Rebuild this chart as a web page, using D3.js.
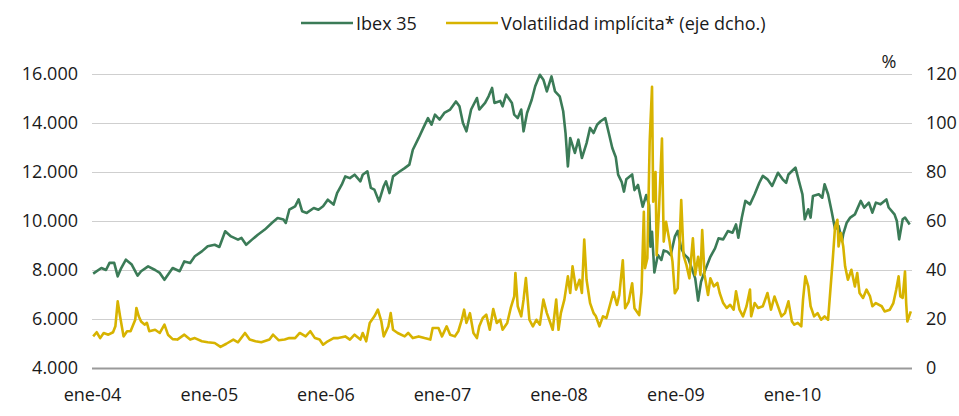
<!DOCTYPE html>
<html>
<head>
<meta charset="utf-8">
<script src="https://cdn.jsdelivr.net/npm/d3@7"></script>
<style>
  body { margin: 0; background: #fff; }
  text { font-family: "Open Sans", sans-serif; fill: #1a1a1a; }
</style>
</head>
<body>
<div id="chart"></div>
<script>
// time is kept as decimal years
var ibexT = [2004.01, 2004.08, 2004.12, 2004.15, 2004.19, 2004.22, 2004.25, 2004.29, 2004.34, 2004.39,
  2004.42, 2004.48, 2004.54, 2004.58, 2004.62, 2004.69, 2004.75, 2004.79, 2004.84, 2004.88,
  2004.94, 2004.99, 2005.05, 2005.09, 2005.14, 2005.19, 2005.25, 2005.28, 2005.32, 2005.37,
  2005.42, 2005.48, 2005.54, 2005.59, 2005.64, 2005.66, 2005.69, 2005.74, 2005.77, 2005.80,
  2005.84, 2005.90, 2005.94, 2005.98, 2006.02, 2006.07, 2006.10, 2006.14, 2006.17, 2006.21,
  2006.25, 2006.30, 2006.32, 2006.36, 2006.39, 2006.42, 2006.46, 2006.50, 2006.52, 2006.55,
  2006.58, 2006.64, 2006.68, 2006.72, 2006.75, 2006.80, 2006.84, 2006.88, 2006.91, 2006.94,
  2006.98, 2007.02, 2007.07, 2007.12, 2007.15, 2007.18, 2007.21, 2007.25, 2007.30, 2007.32,
  2007.37, 2007.40, 2007.43, 2007.45, 2007.50, 2007.52, 2007.55, 2007.60, 2007.62, 2007.65,
  2007.68, 2007.70, 2007.73, 2007.77, 2007.80, 2007.84, 2007.87, 2007.90, 2007.94, 2007.97,
  2008.01, 2008.04, 2008.06, 2008.08, 2008.10, 2008.14, 2008.17, 2008.20, 2008.24, 2008.27,
  2008.30, 2008.33, 2008.36, 2008.40, 2008.43, 2008.46, 2008.49, 2008.51, 2008.54, 2008.56,
  2008.58, 2008.63, 2008.65, 2008.68, 2008.72, 2008.75, 2008.775, 2008.787, 2008.80, 2008.82,
  2008.85, 2008.88, 2008.90, 2008.93, 2008.96, 2008.995, 2009.02, 2009.05, 2009.08, 2009.11,
  2009.14, 2009.17, 2009.195, 2009.22, 2009.25, 2009.30, 2009.34, 2009.37, 2009.41, 2009.45,
  2009.49, 2009.52, 2009.54, 2009.57, 2009.60, 2009.64, 2009.68, 2009.72, 2009.75, 2009.79,
  2009.83, 2009.88, 2009.92, 2009.95, 2009.97, 2010.00, 2010.03, 2010.06, 2010.09, 2010.11,
  2010.14, 2010.16, 2010.18, 2010.23, 2010.26, 2010.28, 2010.31, 2010.34, 2010.37, 2010.40,
  2010.43, 2010.44, 2010.47, 2010.50, 2010.54, 2010.59, 2010.62, 2010.66, 2010.69, 2010.72,
  2010.76, 2010.81, 2010.83, 2010.88, 2010.90, 2010.92, 2010.95, 2010.97, 2011.01];

var ibexValues = [7850, 8080, 8000, 8290, 8290, 7740, 8080, 8420, 8220, 7770,
  7950, 8150, 8000, 7880, 7600, 8080, 7950, 8350, 8290, 8560,
  8760, 8970, 9030, 8940, 9580, 9370, 9240, 9310, 9030, 9240,
  9440, 9650, 9920, 10120, 10060, 9920, 10460, 10600, 10880, 10400,
  10330, 10530, 10460, 10600, 10870, 10670, 11140, 11480, 11820, 11750,
  11890, 11620, 11890, 12030, 11350, 11280, 10800, 11420, 11620, 11140,
  11820, 12030, 12160, 12300, 12910, 13390, 13800, 14200, 13930, 14340,
  14140, 14410, 14550, 14880, 14680, 14000, 13660, 14550, 15020, 14550,
  14820, 15090, 15430, 14820, 14900, 14680, 15160, 14820, 14340, 14200,
  14550, 13660, 14410, 14950, 15500, 15970, 15770, 15290, 15900, 15290,
  15090, 14480, 13590, 12230, 13390, 12780, 13320, 12570, 13180, 13800,
  13590, 13930, 14070, 14200, 13590, 12980, 12600, 11890, 11600, 11200,
  11700, 11900, 11260, 11470, 10580, 11060, 10650, 8950, 9560, 7900,
  8610, 8410, 8800, 8750, 8610, 9360, 9600, 8880, 8610, 8480,
  8070, 7660, 6750, 7520, 7930, 8540, 8880, 9290, 9250, 9590,
  9520, 9860, 9320, 10140, 10820, 10680, 11090, 11560, 11840, 11700,
  11430, 11970, 11700, 11560, 11900, 12040, 12180, 11630, 11090, 10070,
  10480, 10140, 11020, 11090, 10950, 11500, 11090, 10410, 9660, 9800,
  9180, 9460, 9930, 10140, 10270, 10820, 10550, 10750, 10340, 10750,
  10680, 10880, 10550, 10270, 10000, 9250, 10070, 10140, 9860];

var volT = [2004.01, 2004.04, 2004.07, 2004.10, 2004.14, 2004.18, 2004.20, 2004.22, 2004.24, 2004.27,
  2004.30, 2004.33, 2004.37, 2004.38, 2004.40, 2004.42, 2004.45, 2004.47, 2004.49, 2004.54,
  2004.58, 2004.62, 2004.65, 2004.69, 2004.73, 2004.79, 2004.84, 2004.88, 2004.94, 2004.99,
  2005.05, 2005.10, 2005.15, 2005.21, 2005.25, 2005.31, 2005.35, 2005.40, 2005.45, 2005.52,
  2005.55, 2005.60, 2005.65, 2005.69, 2005.74, 2005.78, 2005.83, 2005.87, 2005.91, 2005.95,
  2005.98, 2006.02, 2006.07, 2006.11, 2006.17, 2006.21, 2006.25, 2006.30, 2006.32, 2006.35,
  2006.38, 2006.42, 2006.45, 2006.48, 2006.50, 2006.54, 2006.56, 2006.58, 2006.62, 2006.68,
  2006.71, 2006.75, 2006.80, 2006.85, 2006.90, 2006.92, 2006.97, 2007.00, 2007.04, 2007.07,
  2007.11, 2007.14, 2007.17, 2007.19, 2007.21, 2007.24, 2007.27, 2007.30, 2007.32, 2007.35,
  2007.38, 2007.41, 2007.44, 2007.47, 2007.50, 2007.52, 2007.56, 2007.59, 2007.62, 2007.63,
  2007.65, 2007.68, 2007.70, 2007.72, 2007.75, 2007.78, 2007.81, 2007.84, 2007.87, 2007.90,
  2007.92, 2007.95, 2007.98, 2008.00, 2008.02, 2008.05, 2008.08, 2008.10, 2008.12, 2008.15,
  2008.18, 2008.20, 2008.22, 2008.24, 2008.27, 2008.30, 2008.32, 2008.35, 2008.38, 2008.41,
  2008.44, 2008.47, 2008.50, 2008.52, 2008.55, 2008.57, 2008.60, 2008.63, 2008.65, 2008.69,
  2008.71, 2008.73, 2008.74, 2008.76, 2008.78, 2008.80, 2008.81, 2008.83, 2008.84, 2008.86,
  2008.885, 2008.90, 2008.92, 2008.95, 2008.975, 2008.995, 2009.02, 2009.05, 2009.07, 2009.095,
  2009.12, 2009.15, 2009.17, 2009.195, 2009.215, 2009.23, 2009.25, 2009.28, 2009.30,
  2009.33, 2009.36, 2009.38, 2009.41, 2009.44, 2009.47, 2009.50, 2009.52, 2009.55, 2009.58,
  2009.61, 2009.64, 2009.65, 2009.68, 2009.71, 2009.75, 2009.79, 2009.82, 2009.85, 2009.88,
  2009.91, 2009.94, 2009.97, 2010.00, 2010.02, 2010.05, 2010.08, 2010.095, 2010.115, 2010.14,
  2010.16, 2010.19, 2010.22, 2010.25, 2010.28, 2010.31, 2010.33, 2010.35, 2010.37, 2010.39,
  2010.40, 2010.42, 2010.44, 2010.456, 2010.48, 2010.51, 2010.54, 2010.56, 2010.58, 2010.61,
  2010.64, 2010.67, 2010.69, 2010.72, 2010.77, 2010.795, 2010.84, 2010.87, 2010.895, 2010.915,
  2010.93, 2010.95, 2010.97, 2010.98, 2010.99, 2011.02];

var volValues = [12.9, 14.6, 12.2, 14.3, 13.6, 14.6, 17.0, 27.2, 21.1, 12.9,
  15.0, 15.0, 19.7, 24.5, 21.1, 19.0, 17.7, 18.4, 15.0, 15.6,
  14.3, 17.7, 13.6, 11.8, 11.6, 13.6, 11.6, 12.2, 10.9, 10.5,
  10.2, 8.6, 9.9, 11.6, 10.5, 14.3, 11.6, 10.9, 10.5, 11.6,
  13.6, 11.3, 11.6, 12.2, 12.2, 14.3, 12.9, 15.0, 12.2, 11.6,
  9.5, 10.9, 12.2, 12.2, 12.9, 11.6, 13.6, 11.6, 14.3, 10.9,
  18.4, 21.1, 23.8, 19.0, 12.9, 17.0, 22.4, 15.6, 14.3, 12.9,
  14.3, 12.2, 12.9, 12.2, 11.6, 16.3, 16.3, 12.9, 17.0, 13.6,
  12.9, 15.0, 19.7, 23.8, 18.4, 22.4, 14.3, 12.2, 17.0, 20.4,
  21.8, 15.6, 24.1, 18.4, 19.7, 15.6, 18.4, 24.5, 29.2, 38.8,
  25.2, 21.1, 27.9, 36.7, 19.7, 17.0, 19.7, 17.7, 27.9, 22.4,
  19.7, 15.6, 27.9, 15.6, 22.4, 27.9, 37.4, 30.6, 41.5, 32.0,
  36.0, 30.6, 52.4, 36.0, 26.5, 22.4, 21.1, 17.0, 21.1, 20.4,
  25.7, 31.0, 25.7, 29.8, 44.0, 24.4, 27.0, 34.6, 24.4, 21.6,
  31.0, 63.8, 40.7, 44.8, 92.4, 114.8, 67.9, 80.0, 46.0, 65.0,
  93.7, 51.6, 59.7, 51.6, 43.4, 30.5, 32.5, 68.6, 46.0, 42.0,
  36.6, 52.9, 38.0, 45.4, 38.0, 56.3, 38.0, 29.8, 36.6,
  33.3, 34.7, 30.6, 26.5, 24.5, 25.8, 23.8, 31.3, 23.8, 21.1,
  25.2, 32.0, 21.1, 26.5, 24.5, 25.2, 30.6, 23.8, 29.2, 25.2,
  21.1, 22.4, 27.2, 19.0, 17.7, 18.4, 17.0, 27.9, 37.4, 33.3,
  25.2, 21.1, 22.4, 19.7, 21.1, 19.7, 32.0, 44.2, 57.8, 60.5,
  49.6, 55.1, 49.6, 41.5, 36.0, 40.1, 33.3, 38.8, 30.6, 28.6,
  32.0, 29.2, 25.2, 26.5, 25.2, 23.1, 23.8, 26.5, 32.0, 37.4,
  29.2, 28.6, 39.4, 26.5, 19.0, 23.1];

var leftTicks = [4000, 6000, 8000, 10000, 12000, 14000, 16000];
var rightTicks = [0, 20, 40, 60, 80, 100, 120];
var tickYears = [2004, 2005, 2006, 2007, 2008, 2009, 2010];
var seriesNames = ["Ibex 35", "Volatilidad implícita* (eje dcho.)"];
var seriesColors = ["#3b7b57", "#d7b300"];

var svgWidth = 959;
var svgHeight = 416;
var margin = { top: 74, right: 47, bottom: 48, left: 92 };
var width = svgWidth - margin.left - margin.right;
var height = svgHeight - margin.top - margin.bottom;

function toDate(t) {
  var y = Math.floor(t);
  var start = Date.UTC(y, 0, 1), end = Date.UTC(y + 1, 0, 1);
  return new Date(start + (t - y) * (end - start));
}

var esFormat = d3.formatLocale({ decimal: ",", thousands: ".", grouping: [3], currency: ["", " €"] }).format(",d");

var svg = d3.select("#chart").append("svg")
  .attr("width", svgWidth)
  .attr("height", svgHeight);

var chartGroup = svg.append("g")
  .attr("transform", `translate(${margin.left}, ${margin.top})`);

var xScale = d3.scaleUtc()
  .domain([toDate(2004.0), toDate(2011.03)])
  .range([0, width]);

var yLeft = d3.scaleLinear().domain([4000, 16000]).range([height, 0]);
var yRight = d3.scaleLinear().domain([0, 120]).range([height, 0]);

// gridlines + left labels
var leftAxis = chartGroup.append("g")
  .call(d3.axisLeft(yLeft).tickValues(leftTicks).tickFormat(esFormat).tickSize(-width).tickPadding(14));
leftAxis.select(".domain").remove();
leftAxis.selectAll("line")
  .attr("stroke", d => d === 4000 ? "#9a9a9a" : "#cfcfcf")
  .attr("stroke-width", d => d === 4000 ? 2 : 1.2);
leftAxis.selectAll("text").style("font-size", "18px").attr("fill", "#1a1a1a");

var rightAxis = chartGroup.append("g")
  .attr("transform", `translate(${width}, 0)`)
  .call(d3.axisRight(yRight).tickValues(rightTicks).tickSize(0).tickPadding(14));
rightAxis.select(".domain").remove();
rightAxis.selectAll("text").style("font-size", "18px").attr("fill", "#1a1a1a");

chartGroup.append("text")
  .attr("x", width - 23)
  .attr("y", -6)
  .attr("text-anchor", "middle")
  .style("font-size", "18px")
  .text("%");

// x labels
var xAxis = chartGroup.append("g")
  .attr("transform", `translate(0, ${height})`)
  .call(d3.axisBottom(xScale)
    .tickValues(tickYears.map(y => toDate(y)))
    .tickFormat(d => "ene-" + d3.utcFormat("%y")(d))
    .tickSize(0).tickPadding(20));
xAxis.select(".domain").remove();
xAxis.selectAll("text").style("font-size", "18px").attr("fill", "#1a1a1a");

var ibexData = ibexT.map((t, i) => ({ date: toDate(t), value: ibexValues[i] }));
var volData = volT.map((t, i) => ({ date: toDate(t), value: volValues[i] }));

var ibexLine = d3.line().x(d => xScale(d.date)).y(d => yLeft(d.value));
var volLine = d3.line().x(d => xScale(d.date)).y(d => yRight(d.value));

chartGroup.append("path")
  .datum(ibexData)
  .attr("fill", "none")
  .attr("stroke", seriesColors[0])
  .attr("stroke-width", 2.6)
  .attr("stroke-linejoin", "round")
  .attr("d", ibexLine);

chartGroup.append("path")
  .datum(volData)
  .attr("fill", "none")
  .attr("stroke", seriesColors[1])
  .attr("stroke-width", 2.6)
  .attr("stroke-linejoin", "round")
  .attr("d", volLine);

// legend
var legendX = [301, 446];
var legend = svg.append("g");
seriesNames.forEach(function(name, i) {
  legend.append("line")
    .attr("x1", legendX[i]).attr("x2", legendX[i] + 52)
    .attr("y1", 23).attr("y2", 23)
    .attr("stroke", seriesColors[i])
    .attr("stroke-width", 2.5);
  legend.append("text")
    .attr("x", legendX[i] + 55)
    .attr("y", 29.5)
    .style("font-size", "18px")
    .text(name);
});
</script>
</body>
</html>
